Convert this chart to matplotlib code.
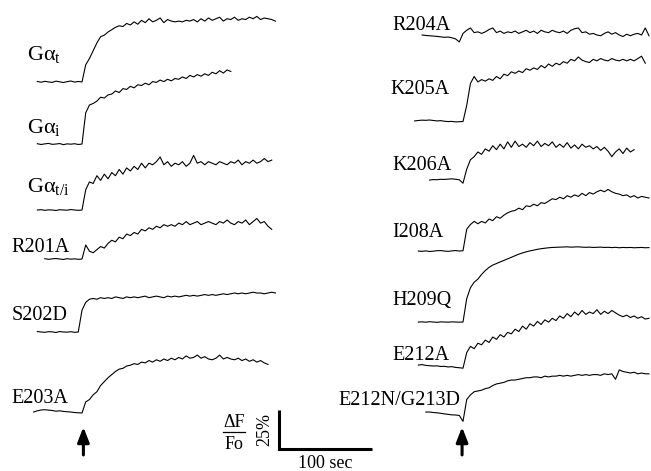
import numpy as np
import matplotlib
matplotlib.use('Agg')
import matplotlib.pyplot as plt

plt.rcParams['font.family'] = ['Liberation Serif', 'DejaVu Serif']
plt.rcParams['mathtext.fontset'] = 'custom'
plt.rcParams['mathtext.rm'] = 'Liberation Serif'
plt.rcParams['mathtext.it'] = 'Liberation Serif:italic'
plt.rcParams['mathtext.default'] = 'regular'

dt = 4  # sec between samples, stimulus (arrow) at t = 0

# ---- left column: dF/Fo in %, first sample time in sec ----
gat_t0 = -48
gat = [0.3, -0.2, 0.4, 0, -0.3, 0.5, 0.1, -0.4, 0.2, 0.6, -0.1, 0.3, 0,
       11, 15, 20, 25, 29, 30, 32, 33.5, 35, 36, 35.5, 37.5, 36.5,
       38.5, 37, 39.5, 38, 40.5, 38.5, 39.5, 41, 38, 40, 39,
       38.5, 39, 38.5, 39.5, 39, 40, 38.5, 40.5, 39, 41, 39.5, 40.5, 41.5, 39,
       40.5, 40, 41.5, 39.5, 40.5, 40, 41.5, 40.5, 42, 40, 41, 40.5, 40, 39]

gai_t0 = -48
gai = [0.2, -0.3, 0.1, 0.4, -0.2, 0, 0.3, -0.4, 0.1, -0.1, 0.2, -0.3, 0,
       20, 25, 26, 27.5, 30, 29.5, 31.5, 32, 34, 33, 35.5, 35, 37,
       36, 38, 37.5, 39, 38, 40, 39.5, 41, 40, 41.5, 40.5, 42,
       41.5, 43, 42, 44, 43, 44.5, 43.5, 45, 44, 46, 45, 47, 45.5, 47.5, 46.5]

gati_t0 = -48
gati = [0, 0.2, -0.2, 0.1, 0, -0.3, 0.2, 0, -0.1, 0.3, 0, -0.2, 0,
        13, 18, 17, 22, 19, 23, 20, 24, 22, 26, 23, 27, 25,
        28, 26, 30, 27, 30, 29, 31, 34, 29, 31, 28, 30,
        29, 31, 28, 30, 35, 30, 31, 29, 31, 30, 29, 31, 30, 29, 31, 30, 32,
        29, 31, 30, 32, 30, 31, 33, 31, 32]

r201a_t0 = -40
r201a = [0.2, -0.2, 0.1, 0.3, 0, -0.3, 0.2, -0.1, 0.1, -0.2, 0,
         9, 5, 4, 6, 8, 7, 10, 12, 11, 14, 13, 16, 15,
         17, 16, 19, 18, 20, 19, 21, 20, 22, 21, 22, 21,
         23, 22, 24, 22, 23, 24, 22, 23, 24, 23, 22, 24, 23, 25, 23, 22, 24,
         23, 25, 22, 24, 26, 23, 24, 21, 19]

s202d_t0 = -48
s202d = [0.3, 0, -0.2, 0.2, 0.1, -0.3, 0.3, 0, -0.1, 0.2, -0.2, 0,
         14, 19,
         21, 21.5, 21, 22, 21.5, 22, 21.5, 22.5, 22, 21.5, 22.5, 22,
         22.5, 22, 22.5, 23, 22, 22.5, 23, 22.5, 22, 23, 22.5, 23,
         22.5, 23, 23.5, 23, 23.5, 23, 23.5, 24, 23.5, 24, 23.5, 24, 24.5, 24,
         24.5, 25, 24.5, 25, 24.5, 25, 25.5, 25, 25, 24.5, 25, 25.5, 25]

e203a_t0 = -52
e203a = [0, 0.8, 1.3, 1.5, 1.2, 1.0, 0.5, 0.8, 0.4, 0.2, 0, -0.3, -0.5, -0.6,
         6.5, 8, 11, 13, 17, 19.5, 22, 24, 26, 27.5, 28, 29.5, 30,
         31, 30.5, 32, 31.5, 33, 32, 33.5, 32.5, 34, 33, 34.5, 33.5,
         35, 34, 36, 34.5, 35, 36.5, 34.5, 35.5, 34, 33.5, 34.5, 36.5, 34,
         35, 34, 33.5, 34.5, 33, 34, 32.5, 33.5, 32, 33, 31.5, 30.5]

# ---- right column ----
r204a_t0 = -44
r204a = [0, -0.3, -0.5, -0.7, -0.9, -1.2, -1.5, -1.3, -1.8, -2.5, -4.5, 1,
         3, 4.5, 1.5, 2, 1, 2, 3.5, 4.5, 1.5, 2.5, 1, 2, 1.5,
         2.5, 1, 2, 3, 1.5, 2.5, 1, 3, 2, 1.5, 3, 2,
         1.5, 2.5, 1, 3, 4, 4.5, 1.5, 2, 0.5, 1, 0, -0.5, 1, 2, 0.5, 1.5,
         0, -1, 0.5, -0.5, 0.5, 1, 0, 4.5, -0.5]

k205a_t0 = -52
k205a = [0, 0.3, 0.5, 0.4, 0.6, 0.3, 0, 0.2, -0.2, -0.4, -0.3, -0.6, -0.5, -0.4,
         10, 24, 28.5, 25, 26.5, 25.5, 27, 26, 28.5, 27, 30, 29, 31.5,
         30.5, 32, 31, 33.5, 32.5, 34, 33, 35.5, 34, 36.5, 35, 37,
         36, 38, 37, 39.5, 38.5, 41, 39, 38, 37.5, 39.5, 38.5, 40, 39, 38.5,
         40, 39, 38.5, 39.5, 38.5, 39.5, 38.5, 40, 41.5, 37]

k206a_t0 = -36
k206a = [0, 0.3, 0.2, 0.5, 0.4, 0.6, 0.8, 0.5, 0.2, -2,
         7, 13, 15, 18, 16.5, 20, 18.5, 22, 19.5, 23, 20, 24.5, 21,
         25, 21.5, 23, 21, 24, 22, 25, 21.5, 23.5, 22, 24.5, 21,
         23, 21, 24, 20.5, 22.5, 20, 23, 21, 22, 20, 21.5, 19, 21, 18.5,
         15, 18, 20, 17, 20.5, 18, 19.5]

i208a_t0 = -48
i208a = [0, -0.2, 0.1, -0.3, -0.1, 0.2, 0.3, 0, -0.2, 0.1, 0.3, 0, 0.2,
         14, 17, 19, 17.5, 19, 18, 20.5, 19.5, 22, 21, 23, 24.5, 25.5,
         26, 27.5, 26.5, 29, 28.5, 30, 29, 31, 30.5, 32, 33.5, 33,
         34.5, 33.5, 35.5, 34.5, 36, 35, 37, 35.5, 37.5, 36.5, 38, 39, 38,
         39.5, 38, 37, 36.5, 35.5, 36, 34.5, 35.5, 34, 35, 34.5, 34]

h209q_t0 = -48
h209q = [0, 0.1, -0.1, 0.2, 0, -0.2, 0.1, 0, -0.1, 0.1, 0, -0.1, 0,
         15, 22, 25.5, 27.5, 30.5, 33, 35, 36.5, 37.5, 38.5, 39.5, 40.5, 41.5,
         42.5, 43.5, 44.3, 45, 45.6, 46.1, 46.6, 47, 47.3, 47.6, 47.8, 47.9,
         48, 48.1, 48.2, 48, 48.1, 48.2, 48, 47.9, 48, 47.8, 47.9, 48, 47.8,
         47.9, 47.7, 47.9, 47.6, 47.8, 47.7, 47.8, 47.6, 47.7, 47.8, 47.6, 47.7]

e212a_t0 = -48
e212a = [0, 0.3, -0.2, -0.4, -0.6, -0.5, -0.9, -0.8, -1.2, -1.0, -1.5, -1.7, -2.0,
         8, 12, 10.5, 14, 13, 16, 14.5, 18, 16.5, 19.5, 18, 21, 20,
         23, 21.5, 25, 23, 26.5, 25, 28, 26, 29, 27.5, 30, 28.5,
         31.5, 30, 33, 31, 34, 32, 35, 32.5, 34, 33, 35.5, 32.5, 34.5,
         33, 35, 33.5, 32, 31, 32, 30.5, 31.5, 30, 31, 29.5, 30]

e212n_t0 = -40
e212n = [0, 0, -0.3, -0.5, -0.8, -1.2, -1.5, -1.8, -1.9, -2.2, -6,
         8, 11, 13, 13.5, 14, 15, 15.5, 17, 18, 18.5, 19, 20, 20.5,
         20.5, 21, 21.5, 22, 22, 22.5, 22.5, 22, 23, 22.5, 23, 23,
         23.5, 23, 23.5, 23, 23.5, 24, 23.5, 24, 23.5, 24, 24, 23.5, 24.5,
         24, 24.5, 21, 27, 26, 25.5, 25, 25.5, 24.5, 25, 24.5, 24.5]

bar_sec = 100
bar_pct = 25

# ---- layout ----
W, H = 651, 471
px_s = 0.93     # pixels per second
px_pct = 1.56   # pixels per percent

fig = plt.figure(figsize=(W / 100, H / 100), dpi=100)
axL = fig.add_axes([0, 0, 1, 1])
axR = fig.add_axes([0, 0, 1, 1])
axR.patch.set_alpha(0)
for ax, stim_px in ((axL, 82), (axR, 463)):
    ax.set_xlim(-stim_px / px_s, (W - stim_px) / px_s)
    ax.set_ylim(0, H / px_pct)
    ax.axis('off')

# (axes, values, t0, vertical offset %, label, label x, label y, fontsize)
traces = [
    (axL, gat, gat_t0, 249.4, r'G$\alpha_{t}$', -59, 263.5, 16),
    (axL, gai, gai_t0, 209.6, r'G$\alpha_{i}$', -59, 216.7, 16),
    (axL, gati, gati_t0, 167.3, r'G$\alpha_{t/i}$', -59, 178.8, 16),
    (axL, r201a, r201a_t0, 135.9, 'R201A', -75.5, 140.4, 14.5),
    (axL, s202d, s202d_t0, 89.1, 'S202D', -75.5, 96.8, 14.5),
    (axL, e203a, e203a_t0, 37.8, 'E203A', -75.5, 43.6, 14.5),
    (axR, r204a, r204a_t0, 279.5, 'R204A', -76.3, 282.7, 14.5),
    (axR, k205a, k205a_t0, 224.4, 'K205A', -78.5, 241.9, 14.5),
    (axR, k206a, k206a_t0, 186.5, 'K206A', -76.3, 192.9, 14.5),
    (axR, i208a, i208a_t0, 141.0, 'I208A', -76.3, 150.0, 14.5),
    (axR, h209q, h209q_t0, 95.5, 'H209Q', -76.3, 106.4, 14.5),
    (axR, e212a, e212a_t0, 67.9, 'E212A', -76.3, 71.2, 14.5),
    (axR, e212n, e212n_t0, 37.8, 'E212N/G213D', -134.4, 42.3, 14.5),
]

for ax, vals, t0, off, name, lx, ly, fs in traces:
    t = t0 + dt * np.arange(len(vals))
    ax.plot(t, np.array(vals) + off, color='k', lw=0.8)
    ax.text(lx, ly, name, fontsize=fs, ha='left', va='baseline')

# stimulus arrows
for ax, ta in ((axL, 1.5), (axR, -1)):
    ax.annotate('', xy=(ta, 28.2), xytext=(ta, 10.3),
                arrowprops=dict(arrowstyle='-|>,head_length=0.9,head_width=0.35',
                                lw=2.2, color='k', shrinkA=0, shrinkB=0))

# scale bar
sx, sy = 211.8, 14.1
axL.plot([sx, sx, sx + bar_sec], [sy + bar_pct, sy, sy], color='k', lw=2.2,
         solid_joinstyle='miter', solid_capstyle='butt', clip_on=False)
axL.text(196.8, sy + bar_pct / 2, '%d%%' % bar_pct, rotation=90, fontsize=13,
         ha='center', va='center')
axL.text(sx + bar_sec / 2, 5.0, '%d sec' % bar_sec, fontsize=13,
         ha='center', va='center')
axL.text(163.4, 31.0, 'ΔF', fontsize=13, ha='center', va='center')
axL.plot([151.6, 175.3], [25.0, 25.0], color='k', lw=0.9)
axL.text(163.4, 17.0, 'Fo', fontsize=13, ha='center', va='center')

fig.savefig('out.png', dpi=100)
